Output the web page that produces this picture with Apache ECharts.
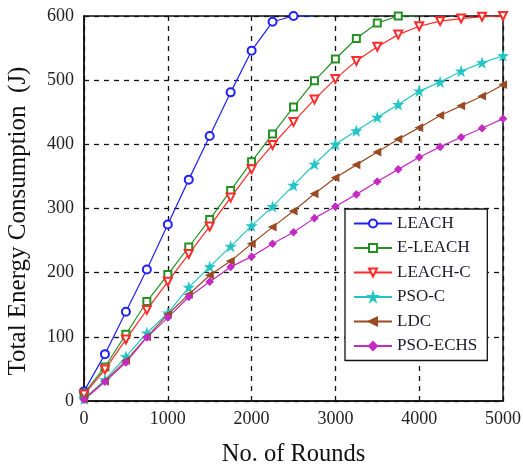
<!DOCTYPE html>
<html>
<head>
<meta charset="utf-8">
<script src="https://cdn.jsdelivr.net/npm/echarts@6/dist/echarts.min.js"></script>
<style>
  html, body { margin: 0; padding: 0; background: #fff; }
  #chart { width: 523px; height: 470px; }
</style>
</head>
<body>
<div id="chart"></div>
<script>
// rounds sampled every 250
const rounds = [0, 250, 500, 750, 1000, 1250, 1500, 1750, 2000, 2250, 2500,
                2750, 3000, 3250, 3500, 3750, 4000, 4250, 4500, 4750, 5000];

const leach   = [15, 73, 139, 205, 275, 345, 413, 481, 546, 591, 600, 600];
const eLeach  = [12, 53, 104, 155, 197, 240, 283, 328, 373, 416, 458, 499, 533, 565, 589, 600, 600];
const leachC  = [10, 49, 96, 142, 186, 229, 272, 317, 361, 399, 435, 470, 502, 530, 552, 571, 584, 592, 596, 599, 600];
const psoC    = [3, 33, 69, 106, 137, 177, 209, 241, 273, 303, 336, 369, 400, 421, 442, 462, 483, 497, 514, 527, 538];
const ldc     = [3, 31, 63, 100, 135, 166, 196, 218, 245, 271, 296, 323, 348, 368, 388, 408, 426, 445, 460, 475, 493];
const psoEchs = [2, 30, 60, 99, 130, 162, 186, 209, 225, 245, 263, 285, 303, 322, 342, 361, 380, 396, 411, 425, 440];

const xTicks = [0, 1000, 2000, 3000, 4000, 5000];
const yTicks = [0, 100, 200, 300, 400, 500, 600];

const star = 'path://M50,0 L61,35 L98,35 L68,57 L79,91 L50,70 L21,91 L32,57 L2,35 L39,35 Z';

// the flat tail after a curve reaches 600 is drawn without a marker
function pairs(vals, hideLast) {
    return vals.map((v, i) => {
        if (hideLast && i === vals.length - 1) {
            return { value: [rounds[i], v], symbol: 'none' };
        }
        return [rounds[i], v];
    });
}

function makeSeries(name, vals, color, symbol, size, rotate, hideLast) {
    return {
        name: name,
        type: 'line',
        data: pairs(vals, hideLast),
        symbol: symbol,
        symbolSize: size,
        symbolRotate: rotate || 0,
        showAllSymbol: true,
        clip: false,
        lineStyle: { color: color, width: 1.2 },
        itemStyle: { color: color, borderColor: color, borderWidth: 1.1 },
        z: 3
    };
}

const chart = echarts.init(document.getElementById('chart'), null, { renderer: 'canvas' });

const serif = '"Liberation Serif", "DejaVu Serif", serif';

chart.setOption({
    animation: false,
    backgroundColor: '#fff',
    grid: {
        left: 84, right: 20, top: 16, bottom: 69,
        outerBoundsMode: 'none',
        show: true, borderColor: '#111', borderWidth: 1.5, backgroundColor: 'transparent'
    },
    legend: {
        orient: 'vertical',
        left: 345, top: 209,
        backgroundColor: '#fff',
        borderColor: '#111', borderWidth: 1.3,
        padding: [6, 10, 6, 8],
        itemWidth: 38, itemHeight: 10, itemGap: 7.5,
        textStyle: { fontFamily: serif, fontSize: 17, color: '#1a1a2a' },
        data: ['LEACH', 'E-LEACH', 'LEACH-C', 'PSO-C', 'LDC', 'PSO-ECHS']
    },
    xAxis: {
        type: 'value',
        min: 0, max: 5000, interval: 1000,
        name: 'No. of Rounds',
        nameLocation: 'middle',
        nameGap: 41,
        nameTextStyle: { fontFamily: serif, fontSize: 24.5, color: '#111' },
        axisLine: { show: true, lineStyle: { color: '#111', width: 1.5 } },
        axisTick: { show: true, inside: true, length: 5, lineStyle: { color: '#111' } },
        axisLabel: { fontFamily: serif, fontSize: 18, color: '#222', margin: 9,
                     customValues: xTicks, formatter: v => String(v) },
        splitLine: { show: true, lineStyle: { color: '#111', type: [5, 5], width: 1.3 } }
    },
    yAxis: {
        type: 'value',
        min: 0, max: 600, interval: 100,
        name: 'Total Energy Consumption  (J)',
        nameLocation: 'middle',
        nameGap: 53,
        nameTextStyle: { fontFamily: serif, fontSize: 25, color: '#111', padding: [0, 25, 0, 0] },
        axisLine: { show: true, lineStyle: { color: '#111', width: 1.5 } },
        axisTick: { show: true, inside: true, length: 5, lineStyle: { color: '#111' } },
        axisLabel: { fontFamily: serif, fontSize: 18, color: '#222', margin: 10,
                     customValues: yTicks, formatter: v => String(v) },
        splitLine: { show: true, lineStyle: { color: '#111', type: [5, 5], width: 1.3 } }
    },
    series: [
        makeSeries('LEACH', leach, '#2020ff', 'emptyCircle', 8, 0, true),
        makeSeries('E-LEACH', eLeach, '#239123', 'emptyRect', 7, 0, true),
        makeSeries('LEACH-C', leachC, '#ff2a2a', 'emptyTriangle', 8, 180),
        makeSeries('PSO-C', psoC, '#22c4c4', star, 9),
        makeSeries('LDC', ldc, '#9a4a22', 'triangle', 7, 90),
        makeSeries('PSO-ECHS', psoEchs, '#c42ac4', 'diamond', 7)
    ]
});
</script>
</body>
</html>
